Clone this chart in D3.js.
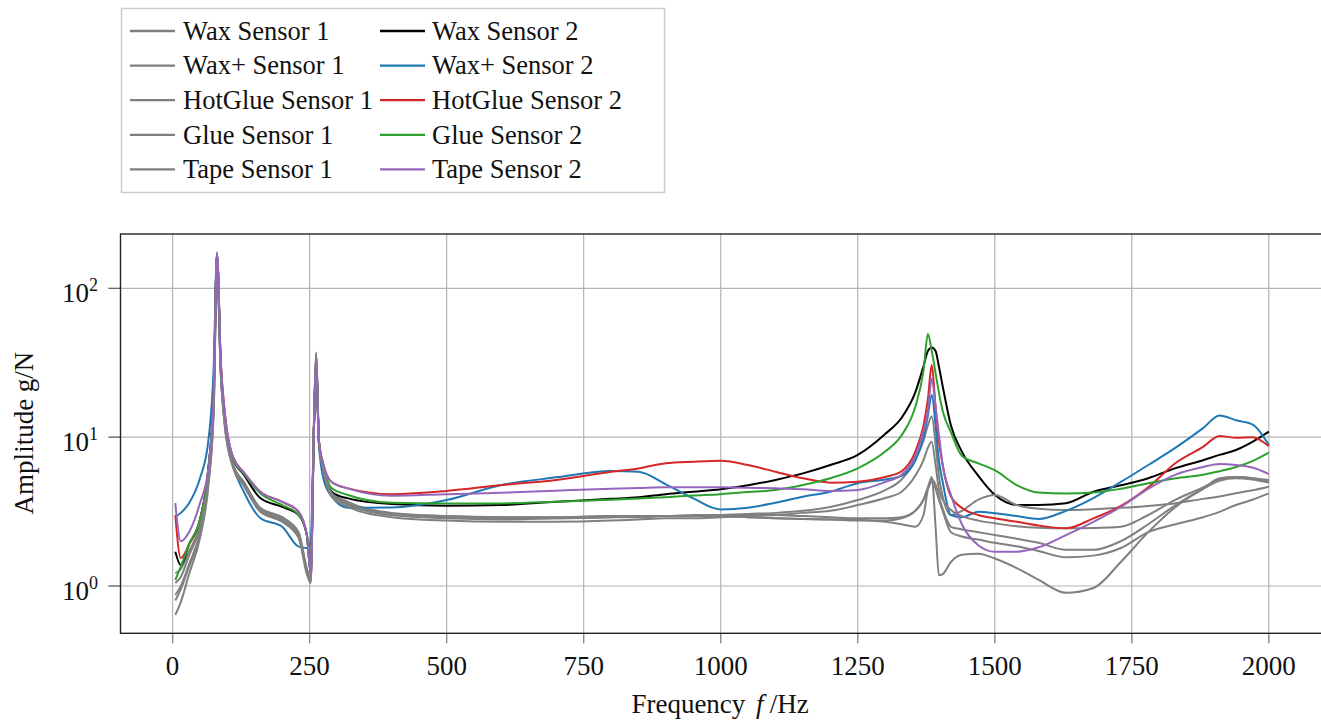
<!DOCTYPE html>
<head>
  <meta charset="utf-8">
  <style>
    body { margin: 0; background: #fff; }
    svg { display: block; font-family: "Liberation Serif", "Times New Roman", serif; }
  </style>
</head>
<svg width="1321" height="721"></svg>
<script src="https://cdn.jsdelivr.net/npm/d3@7"></script>
<script>
  // frequency grid (Hz) shared by all series
  const freq = [5, 15, 30, 50, 65, 75, 81, 88, 95, 110, 130, 160, 200, 230, 245, 252, 258, 262, 267, 275,
    290, 320, 400, 500, 600, 700, 800, 850, 900, 950, 1000, 1050, 1100, 1150, 1200, 1250, 1300, 1330, 1355, 1370,
    1378, 1385, 1392, 1398, 1405, 1420, 1440, 1470, 1500, 1540, 1580, 1630, 1680, 1730, 1780, 1830, 1880, 1910, 1940, 1970, 2000];

  // amplitudes in g/N
  const waxS1 = [1.22, 1.3, 1.7, 2.6, 5.5, 17, 165, 28, 13, 6.6, 5.0, 3.35, 2.9, 2.3, 1.3, 1.1, 13, 37, 9.5, 6.3,
    4.3, 3.68, 3.1, 2.95, 2.9, 2.9, 2.95, 2.95, 2.95, 2.95, 2.95, 2.9, 2.85, 2.82, 2.8, 2.78, 2.7, 2.6, 2.5, 3.0,
    4.5, 5.4, 2.5, 1.18, 1.2, 1.45, 1.62, 1.65, 1.53, 1.32, 1.1, 0.9, 0.97, 1.45, 2.3, 3.4, 4.5, 5.3, 5.4, 5.3, 5.02];
  const waxS2 = [1.70, 1.38, 1.9, 2.8, 6.0, 20, 170, 30, 14, 7.2, 5.6, 3.9, 3.4, 3.0, 2.2, 1.22, 12, 32, 9.3, 6.4,
    4.3, 3.88, 3.55, 3.46, 3.5, 3.68, 3.85, 3.95, 4.14, 4.3, 4.47, 4.75, 5.16, 5.71, 6.5, 7.6, 10.5, 13.5, 20, 30,
    38, 40, 38, 30, 22, 12, 8.0, 5.5, 4.1, 3.5, 3.5, 3.6, 4.3, 4.75, 5.3, 6.2, 7.0, 7.6, 8.2, 9.3, 10.9];
  const waxPlusS1 = [0.87, 1.0, 1.4, 2.3, 5.0, 16, 150, 27, 12.5, 6.4, 4.8, 3.2, 2.75, 2.15, 1.25, 1.05, 12, 36, 9.3, 6.1,
    4.1, 3.55, 3.0, 2.85, 2.8, 2.85, 2.9, 2.9, 2.95, 2.95, 3.0, 3.05, 3.1, 3.2, 3.4, 3.78, 4.4, 5.2, 7.0, 9.5,
    12, 13.8, 9, 5.5, 4.0, 3.0, 3.2, 3.8, 4.09, 3.5, 3.3, 3.24, 3.28, 3.35, 3.45, 3.6, 3.85, 4.0, 4.2, 4.4, 4.65];
  const waxPlusS2 = [2.92, 3.1, 3.6, 5.3, 9.3, 30, 170, 28, 13, 6.5, 4.3, 2.86, 2.5, 1.84, 1.8, 1.98, 12, 32, 9.0, 5.3,
    4.0, 3.36, 3.37, 3.78, 4.77, 5.37, 5.93, 5.85, 4.82, 3.88, 3.27, 3.36, 3.63, 3.98, 4.3, 4.9, 5.2, 5.5, 7.0, 10,
    14, 19.2, 12, 7, 5, 3.0, 2.9, 3.15, 3.08, 2.95, 2.82, 3.2, 3.9, 5.0, 6.5, 8.5, 11.5, 14.0, 13.0, 12.2, 8.85];
  const hotGlueS1 = [0.80, 0.95, 1.35, 2.2, 4.8, 15, 140, 26, 12, 6.3, 4.7, 3.15, 2.7, 2.1, 1.2, 1.05, 12, 35, 9.0, 6.0,
    4.0, 3.4, 2.9, 2.75, 2.7, 2.7, 2.75, 2.8, 2.85, 2.85, 2.9, 2.95, 3.0, 3.1, 3.2, 3.5, 3.9, 4.3, 5.5, 7.0,
    8.5, 9.3, 6.5, 4.5, 3.8, 3.24, 2.95, 2.75, 2.64, 2.52, 2.46, 2.44, 2.45, 2.5, 3.0, 3.8, 4.6, 5.2, 5.4, 5.3, 5.16];
  const hotGlueS2 = [3.0, 1.54, 1.9, 2.8, 6.0, 20, 170, 32, 15, 7.4, 5.8, 4.3, 3.68, 3.15, 2.2, 1.25, 12, 32, 9.5, 6.6,
    5.0, 4.53, 4.14, 4.35, 4.77, 5.16, 5.85, 6.17, 6.68, 6.84, 6.94, 6.5, 5.85, 5.3, 4.95, 5.02, 5.4, 5.9, 8.0, 12,
    18, 30.5, 16, 9.5, 6.5, 4.0, 3.35, 3.0, 2.85, 2.7, 2.55, 2.44, 2.85, 3.45, 4.6, 6.7, 8.6, 10.2, 9.9, 10.0, 8.7];
  const glueS1 = [0.64, 0.78, 1.2, 2.1, 4.6, 15, 160, 27, 12.5, 6.5, 4.9, 3.25, 2.8, 2.2, 1.25, 1.08, 12, 36, 9.2, 6.2,
    4.2, 3.5, 3.0, 2.9, 2.85, 2.85, 2.9, 2.95, 2.95, 3.0, 3.0, 3.0, 3.0, 2.95, 2.9, 2.85, 2.85, 2.9, 3.2, 3.8,
    4.5, 5.0, 4.5, 3.8, 3.2, 2.3, 2.15, 2.05, 1.95, 1.85, 1.72, 1.56, 1.6, 1.8, 2.3, 2.6, 2.9, 3.15, 3.5, 3.8, 4.19];
  const glueS2 = [1.1, 1.35, 1.9, 2.8, 6.0, 20, 170, 30, 14, 7.2, 5.7, 4.2, 3.5, 3.0, 2.2, 1.25, 12, 32, 9.3, 6.5,
    4.55, 4.09, 3.63, 3.59, 3.59, 3.68, 3.8, 3.87, 3.95, 4.05, 4.14, 4.28, 4.42, 4.77, 5.3, 6.17, 8.0, 10.3, 16, 28,
    49.3, 38, 27, 20, 15, 10.8, 7.5, 6.67, 6.0, 4.77, 4.25, 4.19, 4.25, 4.5, 4.9, 5.3, 5.6, 5.9, 6.3, 6.9, 7.86];
  const tapeS1 = [1.05, 1.15, 1.6, 2.5, 5.3, 17, 170, 28, 13, 6.6, 5.0, 3.3, 2.85, 2.25, 1.3, 1.12, 13, 37, 9.4, 6.3,
    4.2, 3.6, 3.05, 2.95, 2.9, 2.9, 2.95, 2.95, 2.95, 2.95, 2.95, 2.9, 2.85, 2.82, 2.8, 2.75, 2.75, 2.85, 3.2, 3.8,
    4.6, 5.2, 4.8, 4.0, 3.3, 2.5, 2.4, 2.3, 2.2, 2.08, 1.95, 1.75, 1.75, 2.0, 2.6, 3.5, 4.5, 5.1, 5.3, 5.2, 4.95];
  const tapeS2 = [3.61, 2.0, 2.3, 3.6, 6.0, 20, 175, 32, 15, 7.4, 5.8, 4.3, 3.68, 3.15, 2.2, 1.22, 12, 32, 9.5, 6.6,
    5.0, 4.53, 4.04, 4.14, 4.23, 4.37, 4.5, 4.55, 4.6, 4.6, 4.6, 4.57, 4.53, 4.47, 4.35, 4.42, 5.0, 5.6, 7.5, 11,
    15, 24.8, 16, 10.5, 6.5, 4.1, 2.6, 1.88, 1.70, 1.70, 1.82, 2.2, 2.7, 3.4, 4.5, 5.6, 6.3, 6.6, 6.5, 6.25, 5.65];

  const seriesNames = ["Wax Sensor 1", "Wax Sensor 2", "Wax+ Sensor 1", "Wax+ Sensor 2",
    "HotGlue Sensor 1", "HotGlue Sensor 2", "Glue Sensor 1", "Glue Sensor 2", "Tape Sensor 1", "Tape Sensor 2"];
  const seriesColors = ["#808080", "#000000", "#808080", "#1f77b4", "#808080", "#d62728",
    "#808080", "#2ca02c", "#808080", "#9467bd"];
  const seriesValues = [waxS1, waxS2, waxPlusS1, waxPlusS2, hotGlueS1, hotGlueS2, glueS1, glueS2, tapeS1, tapeS2];

  const xTicks = [0, 250, 500, 750, 1000, 1250, 1500, 1750, 2000];
  const yTicks = [1, 10, 100];

  const series = seriesNames.map((name, i) => ({
    name: name,
    color: seriesColors[i],
    points: freq.map((f, j) => ({ f: f, a: seriesValues[i][j] }))
  }));

  const plot = { left: 120.5, top: 234, right: 1322, bottom: 633.3 };

  const svg = d3.select("svg");

  const x = d3.scaleLinear().domain([-95, 2097]).range([plot.left, plot.right]);
  const y = d3.scaleLog().domain([0.481, 231.9]).range([plot.bottom, plot.top]);

  svg.append("defs").append("clipPath").attr("id", "clip")
    .append("rect")
    .attr("x", plot.left).attr("y", plot.top)
    .attr("width", plot.right - plot.left).attr("height", plot.bottom - plot.top);

  // grid
  const grid = svg.append("g");
  grid.selectAll("line.vx")
    .data(xTicks)
    .enter().append("line")
    .attr("x1", d => x(d)).attr("x2", d => x(d))
    .attr("y1", plot.top).attr("y2", plot.bottom + 10)
    .style("stroke", "#b4b4b4").style("stroke-width", 1.2);
  grid.selectAll("line.hy")
    .data(yTicks)
    .enter().append("line")
    .attr("x1", plot.left - 12).attr("x2", plot.right)
    .attr("y1", d => y(d)).attr("y2", d => y(d))
    .style("stroke", "#b4b4b4").style("stroke-width", 1.2);
  // tick stubs outside the frame
  grid.selectAll("line.tx")
    .data(xTicks)
    .enter().append("line")
    .attr("x1", d => x(d)).attr("x2", d => x(d))
    .attr("y1", plot.bottom).attr("y2", plot.bottom + 10)
    .style("stroke", "#888").style("stroke-width", 1.2);
  grid.selectAll("line.ty")
    .data(yTicks)
    .enter().append("line")
    .attr("x1", plot.left - 12).attr("x2", plot.left)
    .attr("y1", d => y(d)).attr("y2", d => y(d))
    .style("stroke", "#666").style("stroke-width", 1.2);

  // series
  const line = d3.line()
    .x(d => x(d.f))
    .y(d => y(d.a))
    .curve(d3.curveMonotoneX);

  svg.append("g")
    .attr("clip-path", "url(#clip)")
    .selectAll("path")
    .data(series)
    .enter().append("path")
    .attr("d", d => line(d.points))
    .style("fill", "none")
    .style("stroke", d => d.color)
    .style("stroke-width", 2)
    .style("stroke-linejoin", "round");

  // frame
  svg.append("rect")
    .attr("x", plot.left).attr("y", plot.top)
    .attr("width", plot.right - plot.left).attr("height", plot.bottom - plot.top)
    .style("fill", "none").style("stroke", "#222").style("stroke-width", 1.4);

  // tick labels
  svg.append("g").selectAll("text")
    .data(xTicks)
    .enter().append("text")
    .attr("x", d => x(d))
    .attr("y", 675)
    .attr("text-anchor", "middle")
    .style("font-size", "27px")
    .style("fill", "#111")
    .text(d => d);

  const ylab = svg.append("g").selectAll("text")
    .data(yTicks)
    .enter().append("text")
    .attr("x", 98)
    .attr("y", d => y(d) + 14)
    .attr("text-anchor", "end")
    .style("font-size", "27px")
    .style("fill", "#111");
  ylab.append("tspan").text("10");
  ylab.append("tspan")
    .attr("dy", -11)
    .style("font-size", "18px")
    .text(d => Math.round(Math.log10(d)));

  // axis titles
  const xt = svg.append("text")
    .attr("x", 720).attr("y", 713)
    .attr("text-anchor", "middle")
    .style("font-size", "27px")
    .style("fill", "#111");
  xt.append("tspan").text("Frequency ");
  xt.append("tspan").attr("dx", 4).style("font-style", "italic").text("f");
  xt.append("tspan").attr("dx", 6).text("/Hz");

  svg.append("text")
    .attr("transform", "translate(33,433) rotate(-90)")
    .attr("text-anchor", "middle")
    .style("font-size", "27px")
    .style("fill", "#111")
    .text("Amplitude g/N");

  // legend, two columns: sensor 1 left, sensor 2 right
  const legend = svg.append("g");
  legend.append("rect")
    .attr("x", 121.5).attr("y", 8.5)
    .attr("width", 543).attr("height", 184)
    .style("fill", "#fff").style("stroke", "#cccccc").style("stroke-width", 1.5);

  const item = legend.selectAll("g.item")
    .data(series)
    .enter().append("g")
    .attr("transform", (d, i) => {
      const col = i % 2, row = Math.floor(i / 2);
      return "translate(" + (col === 0 ? 130 : 380) + "," + (31 + row * 34.6) + ")";
    });
  item.append("line")
    .attr("x1", 0).attr("x2", 45)
    .attr("y1", 0).attr("y2", 0)
    .style("stroke", d => d.color)
    .style("stroke-width", 2.3);
  item.append("text")
    .attr("x", (d, i) => i % 2 === 0 ? 53 : 52)
    .attr("y", 8.7)
    .style("font-size", "26.5px")
    .style("fill", "#111")
    .text(d => d.name);
</script>
